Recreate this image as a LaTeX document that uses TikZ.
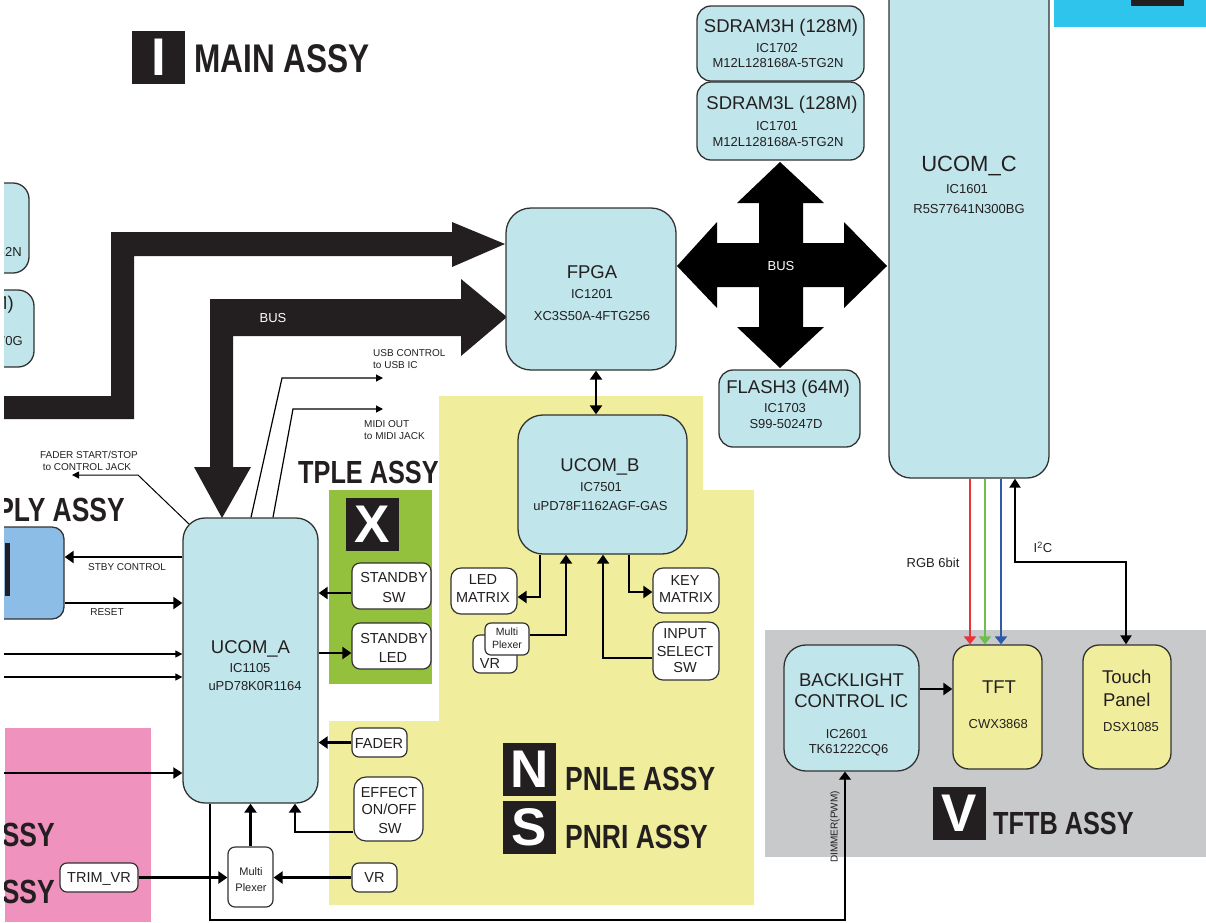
\documentclass[tikz,border=0pt]{standalone}
\usepackage{fontspec}
\setmainfont{Liberation Sans}
\newfontfamily\condfont{Liberation Sans}[FakeStretch=0.79]
\usetikzlibrary{arrows.meta}
\definecolor{boxblue}{RGB}{192,230,235}
\definecolor{ylw}{RGB}{240,238,156}
\definecolor{grn}{RGB}{147,193,62}
\definecolor{pnk}{RGB}{240,146,190}
\definecolor{gry}{RGB}{200,201,203}
\definecolor{sup}{RGB}{139,189,230}
\definecolor{cyn}{RGB}{46,196,236}
\definecolor{ink}{RGB}{35,31,32}
\definecolor{boxline}{RGB}{50,50,50}
\definecolor{rgbR}{RGB}{237,50,55}
\definecolor{rgbG}{RGB}{110,190,75}
\definecolor{rgbB}{RGB}{45,90,170}
\newcommand\myfs[1]{\fontsize{#1pt}{#1pt}\selectfont}
\tikzset{
  box/.style={draw=boxline, line width=1.3pt, fill=boxblue, rounded corners=#1, inner sep=0pt},
  box/.default=20pt,
  wbox/.style={draw=boxline, line width=1.2pt, fill=white, rounded corners=#1, inner sep=0pt},
  wbox/.default=8pt,
  lbl/.style={anchor=base, inner sep=0pt, text=ink},
  big/.style={lbl, font=\myfs{18.5}},
  med/.style={lbl, font=\myfs{13}},
  sm/.style={lbl, font=\myfs{14.5}},
  tiny/.style={lbl, font=\myfs{10}},
  head/.style={anchor=base west, inner sep=0pt, text=ink, font=\condfont\bfseries\myfs{#1}},
  letterbox/.style={fill=ink, minimum width=53pt, minimum height=53pt, inner sep=0pt, text=white, font=\bfseries\myfs{53}},
  thk/.style={line width=2.6pt, -{Triangle[length=9pt,width=12pt]}},
  thn/.style={line width=1.2pt, -{Triangle[length=7pt,width=7pt]}},
  busfill/.style={fill=ink},
}
\begin{document}
\begin{tikzpicture}[x=1pt,y=-1pt]
\useasboundingbox (0,0) rectangle (1206,922);
\clip (4,0) rectangle (1206,922);

% ---------- background regions ----------
\fill[ylw] (439,396) -- (703,396) -- (703,490) -- (754,490) -- (754,905) -- (329,905) -- (329,721) -- (439,721) -- cycle;
\fill[grn] (329,490) rectangle (432,684);
\fill[pnk] (5,728) rectangle (151,922);
\fill[gry] (765,630) rectangle (1206,857);
\fill[cyn] (1054,0) rectangle (1206,27);
\fill[ink] (1131,-2) rectangle (1184,6);

% ---------- bus shapes ----------
\fill[busfill] (-5,396) -- (111,396) -- (111,232) -- (452,232) -- (452,222) -- (505,244) -- (452,267) -- (452,256) -- (134,256) -- (134,419) -- (-5,419) -- cycle;
\fill[busfill] (210,299) -- (461,299) -- (461,279) -- (507,317) -- (461,356) -- (461,336) -- (233,336) -- (233,467) -- (251,467) -- (222,518) -- (194,467) -- (210,467) -- cycle;
\node[lbl, text=white, font=\myfs{13}] (busA) at (273,322.7) {BUS};
\fill[black] (780,162) -- (824,203) -- (803,203) -- (803,243) -- (844,243) -- (844,222) -- (887,266) -- (844,308) -- (844,287) -- (803,287) -- (803,327) -- (824,327) -- (780,368) -- (737,327) -- (759,327) -- (759,287) -- (717,287) -- (717,308) -- (677,266) -- (717,222) -- (717,243) -- (759,243) -- (759,203) -- (737,203) -- cycle;
\node[lbl, text=white, font=\myfs{13}] (busB) at (781,270.7) {BUS};

% ---------- partial boxes at left edge ----------
\node[box=16pt, minimum width=130pt, minimum height=90pt] (leftA) at (-36,228) {};
\node[lbl, anchor=base east, font=\myfs{13}] (leftAt) at (22,256) {G2N};
\node[box=16pt, minimum width=135pt, minimum height=77pt] (leftB) at (-33.5,328.5) {};
\node[lbl, anchor=base east, font=\myfs{18.5}] (leftBt1) at (14,309.6) {M)};
\node[lbl, anchor=base east, font=\myfs{13}] (leftBt2) at (23,345.7) {70G};
\node[box=12pt, fill=sup, minimum width=94pt, minimum height=92pt] (supply) at (17,573) {};
\fill[ink] (5,543) rectangle (10,596);

% ---------- main boxes ----------
\node[box=25pt, minimum width=170pt, minimum height=162pt] (fpga) at (591,289) {};
\node[big] (fpga1) at (592,278.6) {FPGA};
\node[med] (fpga2) at (592,298.7) {IC1201};
\node[med] (fpga3) at (592,320.7) {XC3S50A-4FTG256};

\node[box=22pt, minimum width=135pt, minimum height=285pt] (ucomA) at (250.5,660.5) {};
\node[big] (ucomA1) at (250.5,653.7) {UCOM\_A};
\node[med] (ucomA2) at (250,672.7) {IC1105};
\node[med] (ucomA3) at (255,690.7) {uPD78K0R1164};

\node[box=25pt, minimum width=169pt, minimum height=139pt] (ucomB) at (602.5,484.5) {};
\node[big] (ucomB1) at (600,471.7) {UCOM\_B};
\node[med] (ucomB2) at (601,491.7) {IC7501};
\node[med] (ucomB3) at (600.5,510.7) {uPD78F1162AGF-GAS};

\node[box=22pt, minimum width=160pt, minimum height=508pt] (ucomC) at (969,224) {};
\node[lbl, font=\myfs{22}] (ucomC1) at (969,171) {UCOM\_C};
\node[med] (ucomC2) at (967,193.7) {IC1601};
\node[med] (ucomC3) at (969,213.7) {R5S77641N300BG};

\node[box=14pt, minimum width=167pt, minimum height=75pt] (sdramH) at (780.5,43.5) {};
\node[big] (sdramH1) at (781,32.7) {SDRAM3H (128M)};
\node[med] (sdramH2) at (777,52.7) {IC1702};
\node[med] (sdramH3) at (778,67.7) {M12L128168A-5TG2N};

\node[box=14pt, minimum width=167pt, minimum height=78pt] (sdramL) at (780.5,121) {};
\node[big] (sdramL1) at (782,109.7) {SDRAM3L (128M)};
\node[med] (sdramL2) at (777,130.7) {IC1701};
\node[med] (sdramL3) at (778,146.7) {M12L128168A-5TG2N};

\node[box=14pt, minimum width=141pt, minimum height=77pt] (flash) at (789.5,408.5) {};
\node[big] (flash1) at (788,393.7) {FLASH3 (64M)};
\node[med] (flash2) at (785,412.7) {IC1703};
\node[med] (flash3) at (786,428.7) {S99-50247D};

\node[box=22pt, minimum width=135pt, minimum height=126pt] (backl) at (851.5,708) {};
\node[big] (backl1) at (851.5,686.7) {BACKLIGHT};
\node[big] (backl2) at (851.3,707.7) {CONTROL IC};
\node[med] (backl3) at (846.7,738.7) {IC2601};
\node[med] (backl4) at (848.5,753.7) {TK61222CQ6};

\node[box=16pt, fill=ylw, minimum width=89pt, minimum height=124pt] (tft) at (997.5,707) {};
\node[big] (tft1) at (999,693.7) {TFT};
\node[med] (tft2) at (998.3,728.7) {CWX3868};

\node[box=16pt, fill=ylw, minimum width=88pt, minimum height=124pt] (touch) at (1127,707) {};
\node[big] (touch1) at (1126.7,683.7) {Touch};
\node[big] (touch2) at (1126.7,706) {Panel};
\node[med] (touch3) at (1131,731.7) {DSX1085};

% ---------- small boxes ----------
\node[wbox, minimum width=79pt, minimum height=46pt] (stbySW) at (391.5,586) {};
\node[sm] (stbySW1) at (394,582) {STANDBY};
\node[sm] (stbySW2) at (394,602) {SW};
\node[wbox, minimum width=79pt, minimum height=46pt] (stbyLED) at (391.5,646) {};
\node[sm] (stbyLED1) at (394,643) {STANDBY};
\node[sm] (stbyLED2) at (393,662) {LED};
\node[wbox=7pt, minimum width=55pt, minimum height=29pt] (fader) at (379.5,742.5) {};
\node[sm] (fader1) at (379,748) {FADER};
\node[wbox=12pt, minimum width=69pt, minimum height=64pt] (effect) at (388.5,809) {};
\node[sm] (effect1) at (389,797) {EFFECT};
\node[sm] (effect2) at (389,814) {ON/OFF};
\node[sm] (effect3) at (390,833) {SW};
\node[wbox=7pt, minimum width=45pt, minimum height=29pt] (vrA) at (374.5,877.5) {};
\node[sm] (vrA1) at (374.5,882.5) {VR};
\node[wbox=7pt, minimum width=45pt, minimum height=60pt] (muxA) at (250.5,877) {};
\node[lbl, font=\myfs{11}] (muxA1) at (251,875) {Multi};
\node[lbl, font=\myfs{11}] (muxA2) at (251,891) {Plexer};
\node[wbox=7pt, minimum width=78pt, minimum height=29pt] (trim) at (99,877.5) {};
\node[sm] (trim1) at (99,882.5) {TRIM\_VR};

\node[wbox=10pt, minimum width=66pt, minimum height=46pt] (ledm) at (484,591) {};
\node[sm] (ledm1) at (483,584) {LED};
\node[sm] (ledm2) at (483,602) {MATRIX};
\node[wbox=10pt, minimum width=66pt, minimum height=45pt] (keym) at (686,590.5) {};
\node[sm] (keym1) at (685,585) {KEY};
\node[sm] (keym2) at (686,602) {MATRIX};
\node[wbox=10pt, minimum width=66pt, minimum height=58pt] (inputsel) at (686,651) {};
\node[sm] (inputsel1) at (685,638) {INPUT};
\node[sm] (inputsel2) at (685,656) {SELECT};
\node[sm] (inputsel3) at (685,672) {SW};
\node[wbox=7pt, minimum width=44pt, minimum height=38pt] (vrB) at (495,654) {};
\node[sm] (vrB1) at (490,668) {VR};
\node[wbox=6pt, minimum width=44pt, minimum height=32pt] (muxB) at (507,639) {};
\node[lbl, font=\myfs{10.5}] (muxB1) at (507,635) {Multi};
\node[lbl, font=\myfs{10.5}] (muxB2) at (507,648) {Plexer};

% ---------- letter boxes and headings ----------
\node[letterbox] (lI) at (158.5,57.5) {I};
\node[head=40] (hMain) at (194,72.5) {MAIN ASSY};
\node[letterbox] (lX) at (372.5,524.5) {X};
\node[head=32] (hTple) at (298,483) {TPLE ASSY};
\node[lbl, anchor=base east, font=\condfont\bfseries\myfs{33.5}] (hSupply) at (125,521) {PLY ASSY};
\node[lbl, anchor=base east, font=\condfont\bfseries\myfs{33.5}] (hPink1) at (55,846) {SSY};
\node[lbl, anchor=base east, font=\condfont\bfseries\myfs{33.5}] (hPink2) at (55,903) {SSY};
\node[letterbox] (lN) at (529.5,769.5) {N};
\node[letterbox] (lS) at (529.5,827) {S};
\node[head=33.5] (hPnle) at (565,790) {PNLE ASSY};
\node[head=33.5] (hPnri) at (565,848) {PNRI ASSY};
\node[letterbox] (lV) at (959.5,813) {V};
\node[head=32] (hTftb) at (993,834) {TFTB ASSY};

% ---------- connectors around UCOM_A ----------
\draw[thk] (stbySW.west |- 0,593) -- (ucomA.east |- 0,593);
\draw[thk] (ucomA.east |- 0,653) -- (stbyLED.west |- 0,653);
\draw[thk] (fader.west) -- (ucomA.east |- fader.west);
\draw[thk] (effect.west |- 0,832) -| (ucomA.south -| 295,0);
\draw[thk] (muxA.north) -- (ucomA.south -| muxA.north);
\draw[thk] (trim.east) -- (muxA.west |- trim.east);
\draw[thk] (vrA.west) -- (muxA.east |- vrA.west);
\draw[thk] (ucomA.west |- 0,557) -- (supply.east |- 0,557);
\draw[thk] (supply.east |- 0,603) -- (ucomA.west |- 0,603);
\node[tiny] (lStby) at (127,570.6) {STBY CONTROL};
\node[tiny] (lReset) at (107,615.6) {RESET};
\coordinate (inL1) at (-2,654);
\coordinate (inL2) at (-2,677);
\coordinate (inL3) at (-2,773);
\draw[thn] (inL1) -- (ucomA.west |- inL1);
\draw[thn] (inL2) -- (ucomA.west |- inL2);
\draw[line width=2.2pt, -{Triangle[length=9pt,width=11pt]}] (inL3) -- (ucomA.west |- inL3);
\coordinate (fsA) at (189,524);
\coordinate (fsB) at (138,475);
\coordinate (fsC) at (72,475);
\draw[thn, line width=1pt] (fsA) -- (fsB) -- (fsC);
\node[tiny] (lFs1) at (89,458.6) {FADER START/STOP};
\node[tiny] (lFs2) at (87,470.6) {to CONTROL JACK};
\coordinate (usbB) at (282,378);
\coordinate (usbC) at (383,378);
\draw[thn] (ucomA.north -| 251,0) -- (usbB) -- (usbC);
\node[tiny, anchor=base west] (lUsb1) at (373,356.6) {USB CONTROL};
\node[tiny, anchor=base west] (lUsb2) at (373,368.6) {to USB IC};
\coordinate (midiB) at (293,409);
\coordinate (midiC) at (383,409);
\draw[thn] (ucomA.north -| 273,0) -- (midiB) -- (midiC);
\node[tiny, anchor=base west] (lMidi1) at (364,427.6) {MIDI OUT};
\node[tiny, anchor=base west] (lMidi2) at (364,439.6) {to MIDI JACK};

% ---------- connectors around UCOM_B ----------
\draw[line width=2.6pt, {Triangle[length=9pt,width=12pt]}-{Triangle[length=9pt,width=12pt]}] (fpga.south -| 596,0) -- (ucomB.north -| 596,0);
\draw[thk] (ucomB.south -| 540,0) |- (ledm.east |- 0,597);
\draw[thk] (muxB.east |- 0,635) -| (ucomB.south -| 566,0);
\draw[thk] (ucomB.south -| 629,0) |- (keym.west |- 0,592);
\draw[thk] (inputsel.west |- 0,658) -| (ucomB.south -| 603,0);

% ---------- connectors around UCOM_C / TFTB ----------
\draw[line width=2.2pt, rgbR, -{Triangle[length=8pt,width=12pt]}] (ucomC.south -| 970,0) -- (tft.north -| 970,0);
\draw[line width=2.2pt, rgbG, -{Triangle[length=8pt,width=12pt]}] (ucomC.south -| 985,0) -- (tft.north -| 985,0);
\draw[line width=2.2pt, rgbB, -{Triangle[length=8pt,width=12pt]}] (ucomC.south -| 1001,0) -- (tft.north -| 1001,0);
\node[med] (lRgb) at (933,567.7) {RGB 6bit};
\coordinate (i2cB) at (1126,562);
\draw[line width=2pt, {Triangle[length=9pt,width=11pt]}-{Triangle[length=9pt,width=11pt]}] (ucomC.south -| 1015,0) |- (i2cB) -- (touch.north -| 1126,0);
\node[med] (lI2c) at (1043,552.7) {I\textsuperscript{2}C};
\draw[thk] (backl.east |- 0,689) -- (tft.west |- 0,689);
\coordinate (dimA) at (210,920);
\coordinate (dimB) at (845,920);
\draw[line width=1.2pt, -{Triangle[length=8pt,width=12pt]}] (ucomA.south -| 210,0) -- (dimA) -- (dimB) -- (backl.south -| 845,0);
\node[inner sep=0pt, text=ink, font=\myfs{10}, rotate=90] (lDim) at (835,827) {DIMMER(PWM)};
\end{tikzpicture}
\end{document}
